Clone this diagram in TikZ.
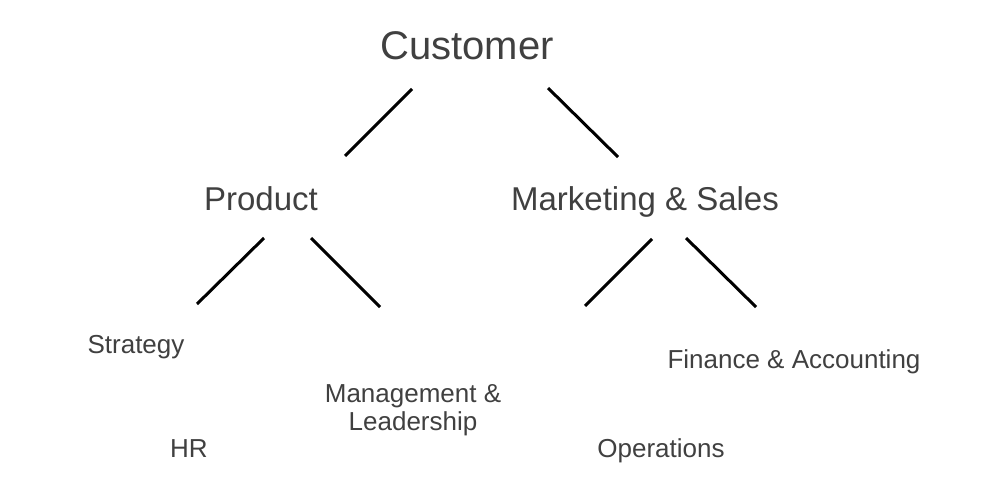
\documentclass[tikz,border=0pt]{standalone}
\usepackage{fontspec}
\setmainfont{Liberation Sans}
\definecolor{txt}{RGB}{64,64,64}
\begin{document}
\begin{tikzpicture}[x=1pt,y=-1pt,
  lbl/.style={anchor=base,inner sep=0pt,text=txt},
  big/.style={lbl,font=\fontsize{40}{44}\selectfont},
  mid/.style={lbl,font=\fontsize{33}{36}\selectfont},
  sml/.style={lbl,font=\fontsize{26}{28}\selectfont},
  conn/.style={draw=black,line width=3pt}]
\useasboundingbox (0,0) rectangle (1000,482);
\node[big] (customer) at (467,59) {Customer};
\node[mid] (product) at (261,210) {Product};
\node[mid] (marketing) at (645,210) {Marketing \& Sales};
\node[sml] (strategy) at (136,353) {Strategy};
\node[sml] (mgmt1) at (413,402) {Management \&};
\node[sml] (mgmt2) at (413,430) {Leadership};
\node[sml] (hr) at (189,457) {HR};
\node[sml] (finance) at (794,368) {Finance \& Accounting};
\node[sml] (operations) at (661,457) {Operations};
\coordinate (c1a) at (412,89); \coordinate (c1b) at (345,156);
\coordinate (c2a) at (548,88); \coordinate (c2b) at (618,157);
\coordinate (p1a) at (264,238); \coordinate (p1b) at (197,304);
\coordinate (p2a) at (311,238); \coordinate (p2b) at (380,307);
\coordinate (m1a) at (652,239); \coordinate (m1b) at (585,306);
\coordinate (m2a) at (686,238); \coordinate (m2b) at (756,307);
\draw[conn] (c1a) -- (c1b);
\draw[conn] (c2a) -- (c2b);
\draw[conn] (p1a) -- (p1b);
\draw[conn] (p2a) -- (p2b);
\draw[conn] (m1a) -- (m1b);
\draw[conn] (m2a) -- (m2b);
\end{tikzpicture}
\end{document}
